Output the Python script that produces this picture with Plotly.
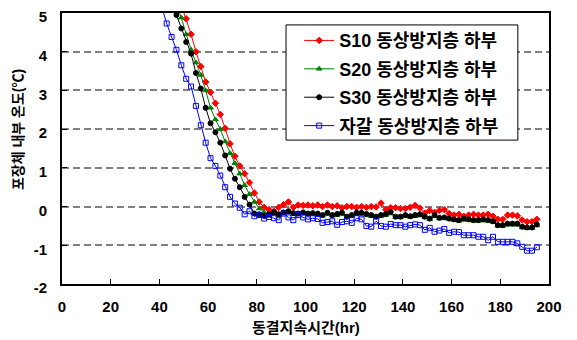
import plotly.graph_objects as go

hours = list(range(41, 197, 2))

s10 = [6.6, 6.2, 5.85, 5.5, 5.2, 4.85, 4.45, 4.0, 3.62, 3.22, 2.95, 2.67, 2.38, 2.02, 1.62, 1.3,
       1.05, 0.85, 0.62, 0.35, 0.12, -0.02, -0.08, -0.12, -0.02, 0.05, 0.12, -0.02, 0.04, 0.03,
       0.04, 0.02, 0.04, 0.0, 0.04, 0.0, 0.02, -0.03, 0.0, 0.0, -0.02, 0.0, -0.02, 0.0, -0.01,
       0.09, -0.08, -0.03, -0.03, -0.05, -0.05, -0.02, 0.03, -0.04, -0.17, -0.1, -0.15, -0.1,
       -0.08, -0.18, -0.22, -0.2, -0.25, -0.22, -0.2, -0.22, -0.22, -0.2, -0.25, -0.33, -0.33,
       -0.22, -0.22, -0.24, -0.35, -0.39, -0.39, -0.33]

s30 = [6.0, 5.6, 5.25, 4.95, 4.6, 4.25, 3.95, 3.45, 3.05, 2.55, 2.15, 1.92, 1.65, 1.32, 0.98, 0.72,
       0.5, 0.25, 0.05, -0.18, -0.2, -0.24, -0.2, -0.15, -0.2, -0.15, -0.12, -0.17, -0.18, -0.15,
       -0.18, -0.17, -0.18, -0.22, -0.16, -0.22, -0.19, -0.16, -0.26, -0.22, -0.16, -0.16, -0.19,
       -0.22, -0.26, -0.22, -0.19, -0.14, -0.26, -0.26, -0.22, -0.25, -0.22, -0.2, -0.26, -0.31,
       -0.22, -0.29, -0.28, -0.31, -0.33, -0.35, -0.31, -0.33, -0.35, -0.35, -0.33, -0.35, -0.38,
       -0.48, -0.48, -0.44, -0.44, -0.44, -0.52, -0.54, -0.54, -0.46]

s20 = [5.9, 5.6, 5.35, 5.2, 4.88, 4.45, 4.05, 3.72, 3.4, 3.0, 2.55, 2.25, 2.0, 1.68, 1.38, 1.12,
       0.85, 0.55, 0.32, 0.12, -0.05, -0.15, -0.22, -0.18, -0.22, -0.17, -0.15, -0.2, -0.2, -0.18,
       -0.2, -0.2, -0.21, -0.24, -0.19, -0.24, -0.22, -0.19, -0.28, -0.25, -0.19, -0.19, -0.22,
       -0.25, -0.28, -0.25, -0.22, -0.18, -0.28, -0.28, -0.25, -0.27, -0.25, -0.23, -0.28, -0.33,
       -0.25, -0.31, -0.3, -0.33, -0.35, -0.37, -0.34, -0.35, -0.37, -0.37, -0.36, -0.37, -0.4,
       -0.5, -0.5, -0.47, -0.47, -0.47, -0.54, -0.56, -0.56, -0.49]

gravel = [5.15, 4.73, 4.38, 4.05, 3.65, 3.3, 3.1, 2.6, 2.1, 1.65, 1.25, 1.05, 0.8, 0.5, 0.25, 0.08,
          -0.03, -0.2, -0.12, -0.25, -0.22, -0.31, -0.27, -0.3, -0.35, -0.18, -0.28, -0.35, -0.22,
          -0.28, -0.33, -0.3, -0.32, -0.42, -0.4, -0.38, -0.47, -0.4, -0.38, -0.42, -0.3, -0.33,
          -0.5, -0.52, -0.38, -0.5, -0.52, -0.45, -0.48, -0.48, -0.52, -0.48, -0.46, -0.48, -0.6,
          -0.55, -0.65, -0.62, -0.58, -0.68, -0.65, -0.66, -0.74, -0.74, -0.74, -0.78, -0.78, -0.87,
          -0.78, -0.91, -0.91, -0.91, -0.91, -0.95, -1.04, -1.14, -1.14, -1.05]

names = ["S10 동상방지층 하부", "S20 동상방지층 하부", "S30 동상방지층 하부", "자갈 동상방지층 하부"]
x_ticks = list(range(0, 201, 20))
y_ticks = list(range(-2, 6))

styles = [
    dict(color="#FF0000", symbol="diamond", size=5),
    dict(color="#008000", symbol="triangle-up", size=5),
    dict(color="#000000", symbol="circle", size=5),
    dict(color="#0000FF", symbol="square-open", size=5),
]

fig = go.Figure()
for i, (name, ys, st) in enumerate(zip(names, [s10, s20, s30, gravel], styles)):
    fig.add_trace(go.Scatter(
        x=hours, y=ys, name=name, mode="lines+markers", legendgroup="g%d" % i,
        line=dict(color=st["color"], width=1),
        marker=dict(color=st["color"], symbol=st["symbol"], size=st["size"],
                    line=dict(color=st["color"], width=1)),
    ))

font_family = "Liberation Sans, Noto Sans CJK KR, Arial, sans-serif"

# legend frame drawn as a shape (paper coords)
fig.add_shape(type="rect", xref="paper", yref="paper",
              x0=0.460, x1=0.936, y0=0.531, y1=0.956,
              line=dict(color="black", width=1), fillcolor="white", layer="above")

# the page body adds an 8px offset, so margins are reduced by 8 on left/top
fig.update_layout(
    width=577, height=340,
    margin=dict(l=54, r=36, t=5, b=64, autoexpand=False),
    paper_bgcolor="white", plot_bgcolor="white",
    font=dict(family=font_family, size=15, color="black", weight="bold"),
    showlegend=True,
    legend=dict(
        x=0.487, y=0.966, xanchor="left", yanchor="top",
        bgcolor="rgba(0,0,0,0)", borderwidth=0,
        font=dict(family=font_family, size=18, color="black", weight="bold"),
        tracegroupgap=2, itemwidth=30,
    ),
    xaxis=dict(
        range=[0, 200], tickvals=x_ticks, ticktext=[str(v) for v in x_ticks],
        ticks="inside", ticklen=5, tickcolor="black", tickwidth=1,
        showline=True, linecolor="black", linewidth=2, mirror=True,
        showgrid=False, zeroline=False, automargin=False,
        tickfont=dict(size=15), ticklabelstandoff=8, ticklabeloverflow="allow",
    ),
    yaxis=dict(
        range=[-2, 5], tickvals=y_ticks, ticktext=[str(v) for v in y_ticks],
        ticks="inside", ticklen=5, tickcolor="black", tickwidth=1,
        showline=True, linecolor="black", linewidth=2, mirror=True,
        showgrid=True, gridcolor="#808080", gridwidth=1.5, griddash="7px,4px",
        zeroline=False, automargin=False,
        tickfont=dict(size=15), ticklabelstandoff=10, ticklabeloverflow="allow",
        ticklabelshift=4,
    ),
    annotations=[
        dict(text="동결지속시간(hr)", xref="paper", yref="paper", x=0.5, y=-0.159,
             xanchor="center", yanchor="middle", showarrow=False,
             font=dict(size=15, weight="bold")),
        dict(text="포장체 내부 온도(℃)", xref="paper", yref="paper", x=-0.0903, y=0.568,
             xanchor="center", yanchor="middle", showarrow=False, textangle=-90,
             font=dict(size=14, weight="bold")),
    ],
)

fig.write_html("out.html")
